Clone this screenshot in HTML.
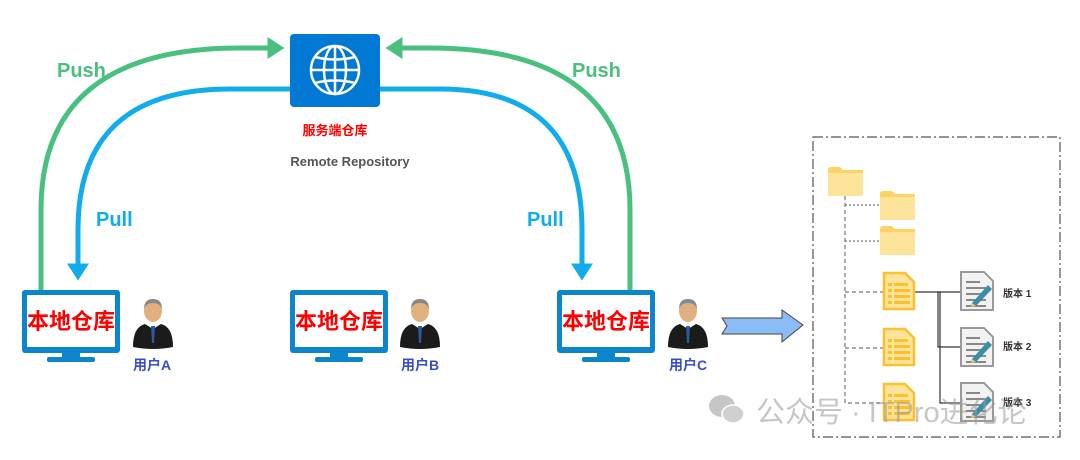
<!DOCTYPE html>
<html><head><meta charset="utf-8"><style>
body{margin:0;background:#fff;width:1080px;height:455px;overflow:hidden}
svg text{font-family:"Liberation Sans","Noto Sans CJK SC",sans-serif;font-weight:bold}
</style></head><body>
<svg width="1080" height="455" viewBox="0 0 1080 455" xmlns="http://www.w3.org/2000/svg">
<defs>
<marker id="ag" markerWidth="6" markerHeight="6" refX="2.5" refY="3" orient="auto" markerUnits="strokeWidth"><path d="M0,0.8 L3.4,3 L0,5.2 Z" fill="#4ac07f"/></marker>
<marker id="ab" markerWidth="6" markerHeight="6" refX="2.5" refY="3" orient="auto" markerUnits="strokeWidth"><path d="M0,0.8 L3.4,3 L0,5.2 Z" fill="#10acec"/></marker>
<g id="mon">
<rect x="0" y="0" width="98" height="63" rx="3" fill="#0b85cc"/>
<rect x="5" y="5" width="88" height="52" fill="#fff"/>
<rect x="40" y="63" width="18" height="5" fill="#0b85cc"/>
<rect x="25" y="67" width="48" height="5" rx="2" fill="#0b85cc"/>
<text x="49" y="39" font-size="22" fill="#f00" text-anchor="middle">本地仓库</text>
</g>
<g id="per">
<ellipse cx="20" cy="14" rx="9" ry="11" fill="#e0b07f"/>
<path d="M11,12 Q11,2 20,2 Q29,2 29,12 Q27,6 20,6 Q13,6 11,12Z" fill="#888"/>
<path d="M0,50 Q0,30 12,27 L20,32 L28,27 Q40,30 40,50 Q20,54 0,50Z" fill="#1b1b1b"/>
<path d="M18,29 L22,29 L21,46 L19,46Z" fill="#2c5aa0"/>
</g>
<g id="fold"><path d="M0,3 Q0,0 3,0 L12,0 L15,3 L35,3 L35,29 L0,29Z" fill="#fcd466"/><rect x="0" y="6" width="35" height="23" fill="#fde49a"/></g>
<g id="doc"><path d="M1,1 L22,1 L31,10 L31,37 L1,37Z" fill="#fde49a" stroke="#fbc02d" stroke-width="2.5"/>
<g fill="#fbc02d"><rect x="5" y="11" width="4" height="3"/><rect x="11" y="11" width="14" height="3"/><rect x="5" y="17" width="4" height="3"/><rect x="11" y="17" width="16" height="3"/><rect x="5" y="23" width="4" height="3"/><rect x="11" y="23" width="16" height="3"/><rect x="5" y="29" width="4" height="3"/><rect x="11" y="29" width="16" height="3"/></g></g>
<g id="ver"><path d="M1,1 L24,1 L33,10 L33,39 L1,39Z" fill="#f2f2f2" stroke="#999" stroke-width="2"/>
<g fill="#888"><rect x="6" y="10" width="14" height="2"/><rect x="6" y="16" width="20" height="2"/><rect x="6" y="22" width="20" height="2"/><rect x="6" y="28" width="20" height="2"/><rect x="6" y="34" width="20" height="2"/></g>
<path d="M12,32 L28,14 L32,18 L16,35 L11,36Z" fill="#3a8fa8"/><path d="M11,36 L12,32 L16,35Z" fill="#f2c27a"/></g>
</defs>
<path d="M41,290 L41,210 Q41,48 240,48 L280,48" fill="none" stroke="#4ac07f" stroke-width="5" marker-end="url(#ag)"/>
<path d="M290,89 L230,89 Q78,89 78,230 L78,276" fill="none" stroke="#10acec" stroke-width="5" marker-end="url(#ab)"/>
<path d="M630,290 L630,210 Q630,48 430,48 L390,48" fill="none" stroke="#4ac07f" stroke-width="5" marker-end="url(#ag)"/>
<path d="M380,89 L440,89 Q582,89 582,230 L582,276" fill="none" stroke="#10acec" stroke-width="5" marker-end="url(#ab)"/>
<rect x="290" y="34" width="90" height="73" rx="4" fill="#0078d4"/>
<g fill="none" stroke="#fff" stroke-width="2.5"><circle cx="335" cy="70" r="24"/><ellipse cx="335" cy="70" rx="11" ry="24"/><line x1="335" y1="46" x2="335" y2="94"/><line x1="311" y1="70" x2="359" y2="70"/><path d="M315,57 Q335,62 355,57"/><path d="M315,83 Q335,78 355,83"/></g>
<text x="335" y="135" font-size="13" fill="#f00" text-anchor="middle">服务端仓库</text>
<text x="350" y="166" font-size="13" fill="#555" text-anchor="middle">Remote Repository</text>
<text x="57" y="77" font-size="20" fill="#4ac07f">Push</text>
<text x="572" y="77" font-size="20" fill="#4ac07f">Push</text>
<text x="96" y="226" font-size="20" fill="#10acec">Pull</text>
<text x="527" y="226" font-size="20" fill="#10acec">Pull</text>
<use href="#mon" x="22" y="290"/><use href="#mon" x="290" y="290"/><use href="#mon" x="557" y="290"/>
<use href="#per" x="133" y="297"/><use href="#per" x="400" y="297"/><use href="#per" x="668" y="297"/>
<text x="133" y="370" font-size="14" fill="#3b4fc4">用户A</text>
<text x="401" y="370" font-size="14" fill="#3b4fc4">用户B</text>
<text x="669" y="370" font-size="14" fill="#3b4fc4">用户C</text>
<path d="M722,318 L782,318 L782,310 L803,325 L782,342 L782,334 L722,334 L727,326Z" fill="#8bbcf5" stroke="#444" stroke-width="1"/>
<rect x="813" y="137" width="247" height="300" fill="none" stroke="#555" stroke-width="1.2" stroke-dasharray="10,3,2,3"/>
<use href="#fold" x="828" y="167"/><use href="#fold" x="880" y="191"/><use href="#fold" x="880" y="226"/>
<g stroke="#777" stroke-width="1.2" fill="none">
<path d="M845,196 L845,403 L885,403" stroke-dasharray="4,3"/>
<path d="M845,205 L880,205 M845,241 L880,241" stroke-dasharray="2,2"/>
<path d="M845,292 L884,292 M845,348 L884,348" stroke-dasharray="4,3"/>
</g>
<g stroke="#333" stroke-width="1.2" fill="none"><path d="M914,292 L961,292 M938,292 L938,347 L961,347 M940,292 L940,403 L961,403"/></g>
<use href="#doc" x="883" y="272"/><use href="#doc" x="883" y="328"/><use href="#doc" x="883" y="383"/>
<use href="#ver" x="960" y="271"/><use href="#ver" x="960" y="327"/><use href="#ver" x="960" y="382"/>
<text x="1003" y="297" font-size="10" fill="#333">版本 1</text>
<text x="1003" y="350" font-size="10" fill="#333">版本 2</text>
<text x="1003" y="406" font-size="10" fill="#333">版本 3</text>
<g opacity="0.55"><ellipse cx="722" cy="406" rx="13" ry="11" fill="#999"/><ellipse cx="733" cy="414" rx="11" ry="9" fill="#aaa" stroke="#fff" stroke-width="1.5"/>
<text x="756" y="422" font-size="29" fill="#999" style="font-weight:normal">公众号 · ITPro进化论</text></g>
</svg>
</body></html>
